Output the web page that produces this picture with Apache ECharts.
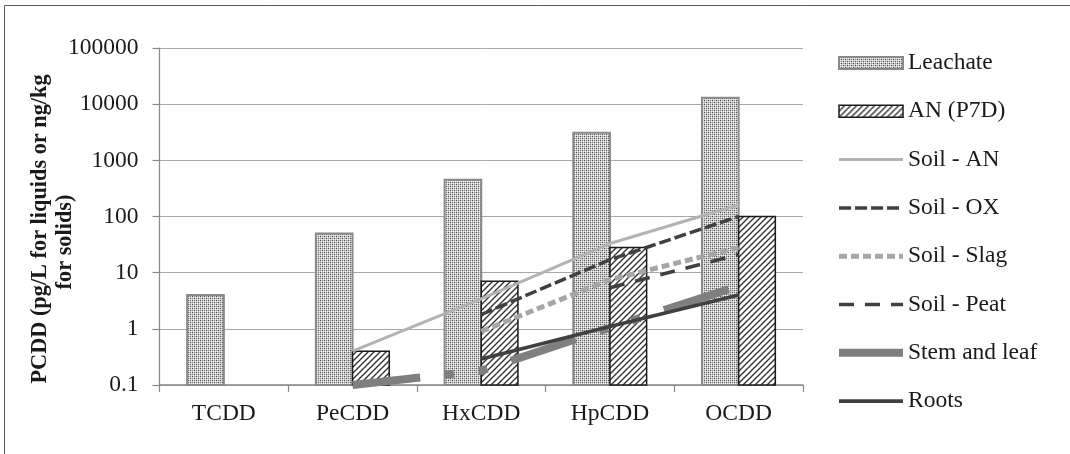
<!DOCTYPE html>
<html>
<head>
<meta charset="utf-8">
<script src="https://cdn.jsdelivr.net/npm/echarts@6/dist/echarts.min.js"></script>
<style>
html,body{margin:0;padding:0;background:#fff;}
#chart{width:1070px;height:454px;}
</style>
</head>
<body>
<div id="chart"></div>
<script>
// ---- data ----
var categories = ['TCDD', 'PeCDD', 'HxCDD', 'HpCDD', 'OCDD'];
var yTicks = [0.1, 1, 10, 100, 1000, 10000, 100000];
var leachate = [4, 50, 450, 3100, 13000];
var anP7D = [null, 0.4, 7, 28, 100];
var soilAN = [null, 0.4, 3.4, 33, 160];
var soilOX = [null, null, 1.8, 17, 100];
var soilSlag = [null, null, 0.9, 7.5, 28];
var soilPeat = [null, null, null, 5.4, 21];
var stemLeaf = [null, 0.1, 0.18, 1.05, 5.8];
var roots = [null, null, 0.29, 1.1, 4];
var yTitle1 = 'PCDD (pg/L for liquids or ng/kg';
var yTitle2 = 'for solids)';

// ---- patterns ----
function dotPattern() {
  var c = document.createElement('canvas');
  c.width = 4; c.height = 4;
  var g = c.getContext('2d');
  var W = '#f4f4f4', L = '#c8c8c8', D = '#4d4d4d', M = '#8a8a8a';
  var px = [
    [D, L, M, L],
    [L, W, L, W],
    [M, L, D, L],
    [L, W, L, W]
  ];
  for (var y = 0; y < 4; y++) for (var x = 0; x < 4; x++) {
    g.fillStyle = px[y][x]; g.fillRect(x, y, 1, 1);
  }
  return {image: c, repeat: 'repeat'};
}
function hatchPattern() {
  var c = document.createElement('canvas');
  c.width = 6; c.height = 6;
  var g = c.getContext('2d');
  g.fillStyle = '#ffffff'; g.fillRect(0, 0, 6, 6);
  g.strokeStyle = '#333333'; g.lineWidth = 1.4;
  g.beginPath();
  g.moveTo(-1, 7); g.lineTo(7, -1);
  g.moveTo(-4, 4); g.lineTo(4, -4);
  g.moveTo(2, 10); g.lineTo(10, 2);
  g.stroke();
  return {image: c, repeat: 'repeat'};
}
var leachFill = dotPattern();
var anFill = hatchPattern();

var FONT = 'Liberation Serif';
var yMin = yTicks[0];

function barRender(slot, fill, stroke, lw) {
  return function (params, api) {
    var i = api.value(0), v = api.value(1);
    if (v == null || isNaN(v)) return;
    var top = api.coord([i, v]);
    var base = api.coord([i, yMin]);
    var catW = api.size([1, 0])[0];
    var bw = catW * 0.285;
    var x = top[0] - bw + slot * bw;
    return {
      type: 'rect',
      shape: {x: x, y: top[1], width: bw, height: base[1] - top[1]},
      style: {fill: fill, stroke: stroke, lineWidth: lw}
    };
  };
}
function pairs(arr) {
  var out = [];
  arr.forEach(function (v, i) { if (v != null) out.push([i, v]); });
  return out;
}
var lineDefs = [
  {name: 'Soil - AN', data: soilAN, color: '#b3b3b3', width: 3, type: 'solid'},
  {name: 'Soil - OX', data: soilOX, color: '#404040', width: 3.5, type: [12, 4]},
  {name: 'Soil - Slag', data: soilSlag, color: '#a6a6a6', width: 5, type: [8, 4]},
  {name: 'Soil - Peat', data: soilPeat, color: '#404040', width: 3.5, type: [15, 11]},
  {name: 'Stem and leaf', data: stemLeaf, color: '#7f7f7f', width: 8, type: [68, 25, 9, 25, 9, 25], clip: false},
  {name: 'Roots', data: roots, color: '#404040', width: 3.8, type: 'solid'}
];

var series = [
  {name: 'Leachate', type: 'custom', data: pairs(leachate), encode: {x: 0, y: 1},
   itemStyle: {color: '#bbbbbb'}, renderItem: barRender(0, leachFill, '#8a8a8a', 2), z: 2},
  {name: 'AN (P7D)', type: 'custom', data: pairs(anP7D), encode: {x: 0, y: 1},
   itemStyle: {color: '#777777'}, renderItem: barRender(1, anFill, '#1a1a1a', 1.5), z: 2}
];
var legendData = [
  {name: 'Leachate', icon: 'rect', itemStyle: {color: leachFill, borderColor: '#8a8a8a', borderWidth: 2}},
  {name: 'AN (P7D)', icon: 'rect', itemStyle: {color: anFill, borderColor: '#1a1a1a', borderWidth: 1.5}}
];
lineDefs.forEach(function (d) {
  series.push({
    name: d.name, type: 'line', data: d.data, symbol: 'none', showSymbol: false,
    lineStyle: {color: d.color, width: d.width, type: d.type, cap: 'butt'},
    itemStyle: {color: d.color},
    connectNulls: false, clip: d.clip !== false, z: 5
  });
  legendData.push({
    name: d.name,
    itemStyle: {opacity: 0},
    lineStyle: {color: d.color, width: d.width, type: d.type, cap: 'butt', opacity: 1}
  });
});

var chart = echarts.init(document.getElementById('chart'), null, {renderer: 'canvas'});
chart.setOption({
  animation: false,
  backgroundColor: '#ffffff',
  grid: {left: 159.5, right: 267, top: 48, bottom: 69, containLabel: false},
  xAxis: {
    type: 'category', data: categories, boundaryGap: true,
    axisLine: {show: true, lineStyle: {color: '#888888', width: 1.5}},
    axisTick: {show: true, length: 7, lineStyle: {color: '#888888', width: 1.2}},
    axisLabel: {margin: 17, fontFamily: FONT, fontSize: 23.5, color: '#1a1a1a'},
    splitLine: {show: false}
  },
  yAxis: {
    type: 'log', logBase: 10, min: yTicks[0], max: yTicks[yTicks.length - 1],
    axisLine: {show: true, lineStyle: {color: '#888888', width: 1.2}},
    axisTick: {show: true, length: 7, lineStyle: {color: '#888888', width: 1.2}},
    axisLabel: {
      margin: 21, fontFamily: FONT, fontSize: 23.5, color: '#1a1a1a',
      formatter: function (v) { return String(+(+v).toPrecision(6)); }
    },
    splitLine: {show: true, lineStyle: {color: '#a8a8a8', width: 1}}
  },
  legend: {
    orient: 'vertical', left: 835, top: 51, padding: 0,
    itemWidth: 64, itemHeight: 12, itemGap: 24.3, itemTextGap: 6,
    textStyle: {fontFamily: FONT, fontSize: 23.5, lineHeight: 24, color: '#1a1a1a'},
    data: legendData
  },
  graphic: [
    {type: 'polyline', silent: true, shape: {points: [[4.5, 454], [4.5, 5.5], [1070, 5.5]]},
     style: {stroke: '#595959', lineWidth: 1, fill: null}},
    {type: 'text', x: 40, y: 229, rotation: Math.PI / 2, silent: true,
     style: {text: yTitle1, font: 'bold 22.3px "' + FONT + '"', fill: '#1a1a1a', align: 'center', verticalAlign: 'middle'}},
    {type: 'text', x: 65, y: 242, rotation: Math.PI / 2, silent: true,
     style: {text: yTitle2, font: 'bold 22.3px "' + FONT + '"', fill: '#1a1a1a', align: 'center', verticalAlign: 'middle'}}
  ],
  series: series
});
</script>
</body>
</html>
